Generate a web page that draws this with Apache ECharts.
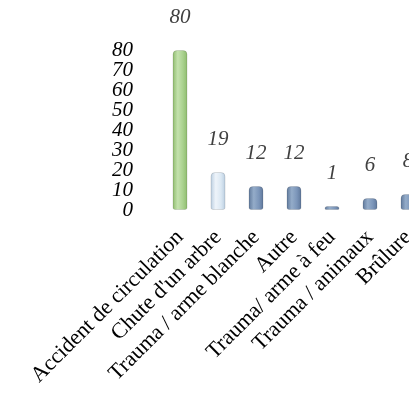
<!DOCTYPE html>
<html>
<head>
<meta charset="utf-8">
<script src="https://cdn.jsdelivr.net/npm/echarts@6/dist/echarts.min.js"></script>
<style>
	html, body { margin: 0; padding: 0; background: #fff; }
	#chart { width: 409px; height: 396px; }
</style>
</head>
<body>
<div id="chart"></div>
<script>
const categories = [
	"Accident de circulation",
	"Chute d'un arbre",
	"Trauma / arme blanche",
	"Autre",
	"Trauma/ arme à feu",
	"Trauma / animaux",
	"Brûlure",
]
const counts = [80, 19, 12, 12, 1, 6, 8]
const yTicks = [0, 10, 20, 30, 40, 50, 60, 70, 80]

// cylinder-ish look with a horizontal gradient
const cyl = (dark, mid, light) =>
	new echarts.graphic.LinearGradient(0, 0, 1, 0, [
		{ offset: 0, color: dark },
		{ offset: 0.35, color: light },
		{ offset: 0.7, color: mid },
		{ offset: 1, color: dark },
	])

const blue = cyl("#5d7699", "#7b95b9", "#94acc9")
const barColors = [
	cyl("#8dbb6c", "#a9d18e", "#c4e2ad"),
	cyl("#b9cde0", "#dbe8f3", "#eef4fa"),
	blue, blue, blue, blue, blue,
]

const serif = "'Liberation Serif', 'Times New Roman', serif"

const chart = echarts.init(document.getElementById("chart"))

chart.setOption({
	animation: false,
	grid: {
		top: 50,
		left: 161,
		width: 266,
		height: 160,
		outerBoundsMode: "none",
	},
	xAxis: {
		type: "category",
		data: categories,
		axisLine: { show: false },
		axisTick: { show: false },
		axisLabel: {
			rotate: 45,
			interval: 0,
			margin: 24,
			fontFamily: serif,
			fontSize: 22,
			color: "#000",
		},
	},
	yAxis: [
		{
			type: "value",
			min: yTicks[0],
			max: yTicks[yTicks.length - 1],
			interval: 10,
			splitLine: { show: false },
			axisLine: { show: false },
			axisTick: { show: false },
			axisLabel: { show: false },
		},
		{
			// labels only: ticks are packed tighter than the font height,
			// so the value axis would drop some of them
			type: "category",
			data: yTicks.map(String),
			boundaryGap: false,
			position: "left",
			splitLine: { show: false },
			axisLine: { show: false },
			axisTick: { show: false },
			axisLabel: {
				interval: 0,
				margin: 28,
				fontFamily: serif,
				fontStyle: "italic",
				fontSize: 21,
				color: "#000",
			},
		},
	],
	series: [
		{
			type: "bar",
			yAxisIndex: 0,
			barWidth: 15,
			barMinHeight: 4,
			data: counts.map((v, i) => ({
				value: v,
				itemStyle: { color: barColors[i] },
			})),
			itemStyle: {
				borderRadius: [4, 4, 2, 2],
				borderColor: "rgba(0,0,0,0.12)",
				borderWidth: 1,
			},
			label: {
				show: true,
				position: "top",
				distance: 22,
				fontFamily: serif,
				fontStyle: "italic",
				fontSize: 21,
				color: "#404040",
			},
		},
	],
})
</script>
</body>
</html>
